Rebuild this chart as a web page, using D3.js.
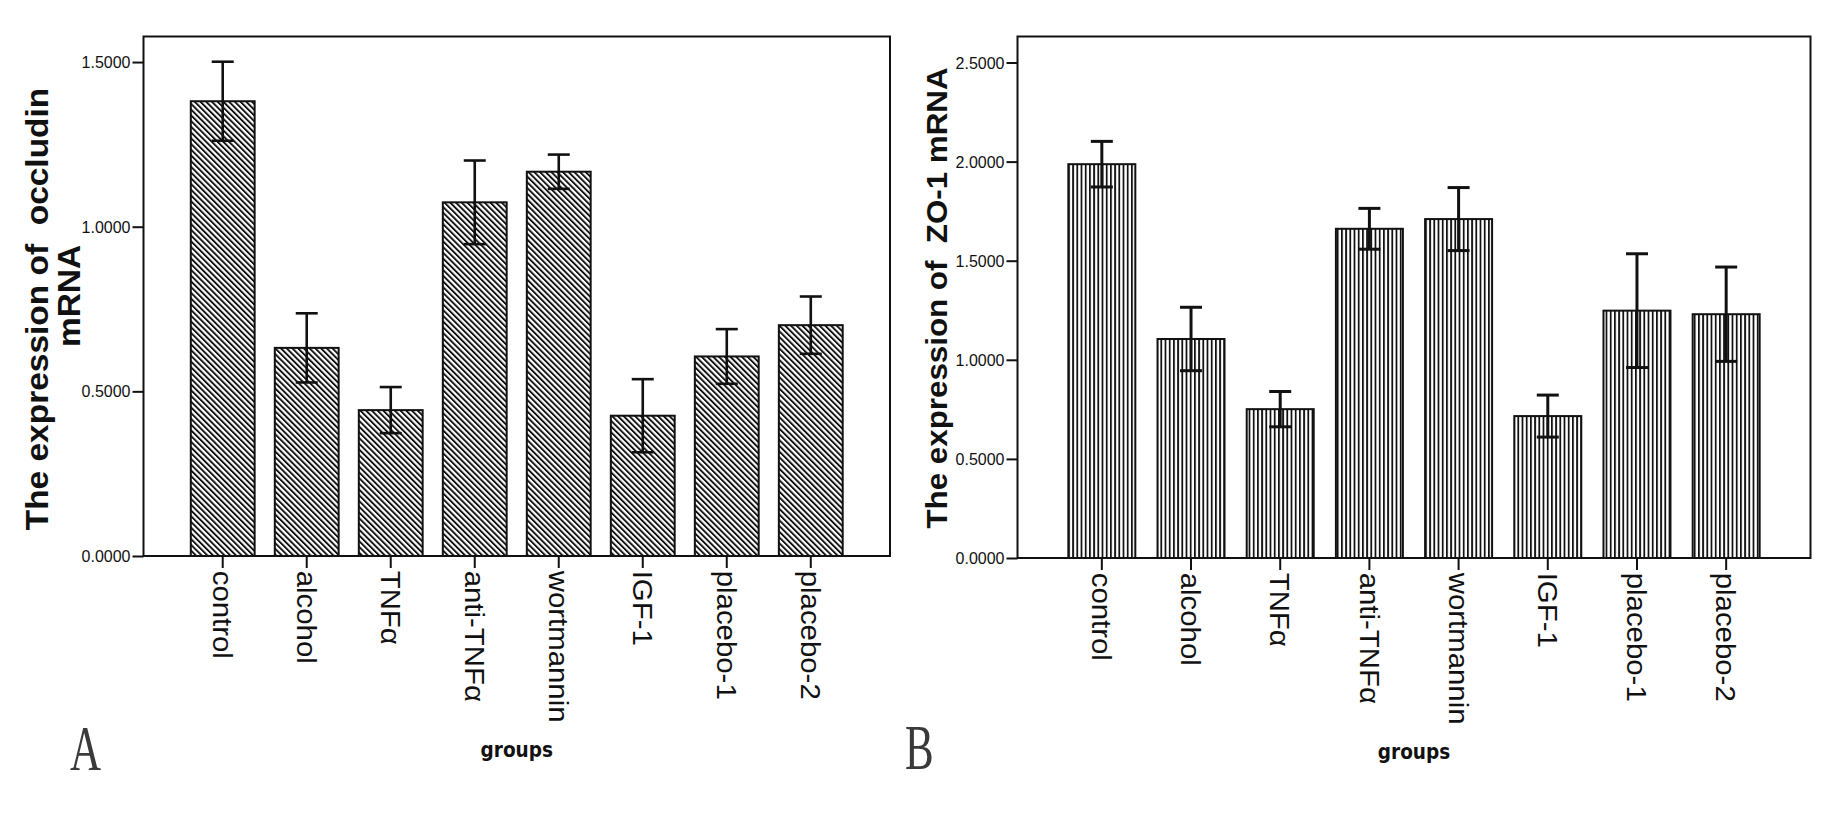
<!DOCTYPE html>
<html>
<head>
<meta charset="utf-8">
<script src="https://d3js.org/d3.v7.min.js"></script>
<style>
  html, body { margin: 0; padding: 0; background: #fff; }
  svg { display: block; }
  text.pre { white-space: pre; }
</style>
</head>
<body>
<svg id="chart" width="1833" height="816"></svg>
<script>
// ---------- data ----------
const categories = ["control", "alcohol", "TNFα", "anti-TNFα", "wortmannin", "IGF-1", "placebo-1", "placebo-2"];

const occludinMean = [1.381, 0.632, 0.443, 1.074, 1.167, 0.426, 0.606, 0.701];
const occludinErr  = [0.120, 0.105, 0.070, 0.127, 0.052, 0.111, 0.083, 0.087];

const zo1Mean = [1.987, 1.105, 0.751, 1.661, 1.710, 0.716, 1.248, 1.230];
const zo1Err  = [0.115, 0.160, 0.089, 0.103, 0.159, 0.106, 0.287, 0.238];

const occludinTicks = [0, 0.5, 1.0, 1.5];
const zo1Ticks = [0, 0.5, 1.0, 1.5, 2.0, 2.5];

const titleA = ["The expression of  occludin", "mRNA"];
const titleB = ["The expression of  ZO-1 mRNA"];
const xTitle = "groups";

// ---------- drawing ----------
const svg = d3.select("#chart");
svg.append("rect").attr("width", 1833).attr("height", 816).attr("fill", "#fff");

const defs = svg.append("defs");
const pDiag = defs.append("pattern")
  .attr("id", "diag").attr("patternUnits", "userSpaceOnUse")
  .attr("width", 4.05).attr("height", 10)
  .attr("patternTransform", "rotate(-45)");
pDiag.append("rect").attr("width", 4.05).attr("height", 10).attr("fill", "#fff");
pDiag.append("rect").attr("x", 0).attr("width", 1.9).attr("height", 10).attr("fill", "#111");

const pVert = defs.append("pattern")
  .attr("id", "vert").attr("patternUnits", "userSpaceOnUse")
  .attr("width", 4.2).attr("height", 10).attr("x", 1068);
pVert.append("rect").attr("width", 4.2).attr("height", 10).attr("fill", "#fff");
pVert.append("rect").attr("x", 0).attr("width", 1.8).attr("height", 10).attr("fill", "#111");

function drawPanel(cfg) {
  const g = svg.append("g");
  const x = d3.scaleBand().domain(categories)
    .range([cfg.left, cfg.right])
    .paddingInner(cfg.padInner).paddingOuter(cfg.padOuter);
  const y = d3.scaleLinear().domain([0, cfg.ymax]).range([cfg.bottom, cfg.top]);

  // bars
  g.selectAll("rect.bar").data(cfg.means).join("rect")
    .attr("class", "bar")
    .attr("x", (d, i) => x(categories[i]))
    .attr("width", x.bandwidth())
    .attr("y", d => y(d))
    .attr("height", d => y(0) - y(d))
    .attr("fill", `url(#${cfg.pattern})`)
    .attr("stroke", "#111").attr("stroke-width", 2);

  // error bars
  const eg = g.selectAll("g.err").data(cfg.means).join("g").attr("class", "err");
  const cx = i => x(categories[i]) + x.bandwidth() / 2;
  eg.append("line")
    .attr("x1", (d, i) => cx(i)).attr("x2", (d, i) => cx(i))
    .attr("y1", (d, i) => y(d + cfg.errs[i])).attr("y2", (d, i) => y(d - cfg.errs[i]))
    .attr("stroke", "#111").attr("stroke-width", cfg.errW);
  [1, -1].forEach(s => {
    eg.append("line")
      .attr("x1", (d, i) => cx(i) - 11).attr("x2", (d, i) => cx(i) + 11)
      .attr("y1", (d, i) => y(d + s * cfg.errs[i])).attr("y2", (d, i) => y(d + s * cfg.errs[i]))
      .attr("stroke", "#111").attr("stroke-width", cfg.errW);
  });

  // frame
  g.append("rect")
    .attr("x", cfg.left).attr("y", cfg.top)
    .attr("width", cfg.right - cfg.left).attr("height", cfg.bottom - cfg.top)
    .attr("fill", "none").attr("stroke", "#111").attr("stroke-width", 2);

  // y axis
  const ya = g.append("g").attr("transform", `translate(${cfg.left},0)`)
    .call(d3.axisLeft(y).tickValues(cfg.ticks).tickFormat(d3.format(".4f")).tickSize(11).tickPadding(2));
  ya.select(".domain").remove();
  ya.selectAll(".tick line").attr("stroke", "#111").attr("stroke-width", 2);
  ya.selectAll(".tick text")
    .attr("font-family", "'Liberation Sans', Arial, sans-serif")
    .attr("font-size", 16).attr("fill", "#111")
    .attr("transform", "scale(1,1.08)");

  // x axis
  const xa = g.append("g").attr("transform", `translate(0,${cfg.bottom})`)
    .call(d3.axisBottom(x).tickSize(12));
  xa.select(".domain").remove();
  xa.selectAll(".tick line").attr("stroke", "#111").attr("stroke-width", 2);
  xa.selectAll(".tick text")
    .attr("font-family", "'Liberation Sans', Arial, sans-serif")
    .attr("font-size", 28).attr("fill", "#111")
    .attr("text-anchor", "start")
    .attr("x", 14).attr("y", 0).attr("dy", "0.35em")
    .attr("transform", "rotate(90) scale(1.05,1)");

  // y title
  cfg.title.forEach((t, k) => {
    g.append("text")
      .attr("class", "pre")
      .attr("transform", `translate(${cfg.titleX[k]},${cfg.titleY[k]}) scale(1,1.08) rotate(-90)`)
      .attr("text-anchor", "middle").attr("dy", "0.35em")
      .attr("font-family", "'Liberation Sans', Arial, sans-serif")
      .attr("font-weight", "bold").attr("font-size", cfg.titleSize).attr("fill", "#111")
      .text(t);
  });

  // x title
  g.append("text")
    .attr("transform", `translate(${(cfg.left + cfg.right) / 2},${cfg.xTitleY}) scale(1,1.15)`)
    .attr("text-anchor", "middle")
    .attr("font-family", "'DejaVu Sans', sans-serif")
    .attr("font-weight", "bold").attr("font-size", 18.5).attr("fill", "#111")
    .text(xTitle);

  // panel letter
  g.append("text")
    .attr("transform", `translate(${cfg.letterX},${cfg.letterY}) scale(1,1.45)`)
    .attr("font-family", "'Liberation Serif', 'Times New Roman', serif")
    .attr("font-size", 43).attr("fill", "#3a3a3a")
    .text(cfg.letter);
}

drawPanel({
  left: 143.5, right: 890, top: 36.5, bottom: 556,
  ymax: (556 - 36.5) / 329.3,
  padInner: 0.24, padOuter: 0.563,
  means: occludinMean, errs: occludinErr, ticks: occludinTicks,
  pattern: "diag", errW: 2.6,
  title: titleA, titleX: [37, 69], titleY: [309, 296], titleSize: 31,
  xTitleY: 757, letter: "A", letterX: 70, letterY: 770
});

drawPanel({
  left: 1017.5, right: 1810.5, top: 36.5, bottom: 558,
  ymax: (558 - 36.5) / 198.2,
  padInner: 0.249, padOuter: 0.57,
  means: zo1Mean, errs: zo1Err, ticks: zo1Ticks,
  pattern: "vert", errW: 3,
  title: titleB, titleX: [937], titleY: [298], titleSize: 29,
  xTitleY: 759, letter: "B", letterX: 905, letterY: 769
});
</script>
</body>
</html>
